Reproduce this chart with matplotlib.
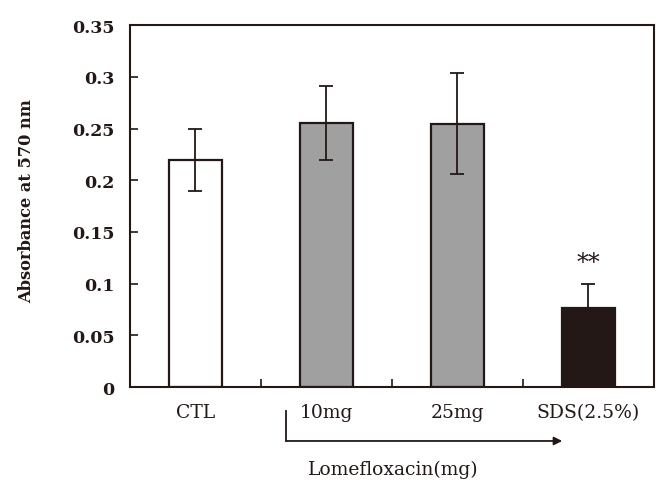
import matplotlib
matplotlib.use("Agg")
import matplotlib.pyplot as plt

categories = ["CTL", "10mg", "25mg", "SDS(2.5%)"]
values = [0.220, 0.255, 0.254, 0.076]
err_low = [0.030, 0.035, 0.048, 0.005]
err_high = [0.030, 0.036, 0.050, 0.024]
bar_colors = ["#ffffff", "#a0a0a0", "#a0a0a0", "#231815"]
yticks = [0, 0.05, 0.1, 0.15, 0.2, 0.25, 0.3, 0.35]
ytick_labels = ["0", "0.05", "0.1", "0.15", "0.2", "0.25", "0.3", "0.35"]

plt.rcParams['font.family'] = ['DejaVu Serif']
edge = "#231815"

fig = plt.figure(figsize=(6.7, 5.02), dpi=100)
ax = fig.add_axes([0.194, 0.227, 0.782, 0.721])

x = list(range(len(categories)))
ax.bar(x, values, width=0.41, color=bar_colors, edgecolor=edge, linewidth=1.6, zorder=2)
ax.errorbar(x, values, yerr=[err_low, err_high], fmt='none', ecolor=edge,
            elinewidth=1.3, capsize=5, capthick=1.3, zorder=3)

ax.text(3, 0.120, "**", ha='center', va='center', fontsize=17, color=edge)

ax.set_xlim(-0.5, 3.5)
ax.set_ylim(0, 0.35)
ax.set_yticks(yticks)
ax.set_yticklabels(ytick_labels, fontsize=12.5, fontweight='bold', color=edge)
ax.tick_params(axis='y', direction='in', length=6, width=1.2, pad=11, color=edge)

# boundary ticks between categories; category names as text
ax.set_xticks([0.5, 1.5, 2.5])
ax.set_xticklabels([])
ax.tick_params(axis='x', direction='in', length=6, width=1.2, color=edge)
for xi, lab in zip(x, categories):
    ax.text(xi, -0.069, lab, transform=ax.get_xaxis_transform(), ha='center',
            va='center', fontsize=13.5, color=edge)

for s in ax.spines.values():
    s.set_linewidth(1.5)
    s.set_color(edge)

fig.text(27 / 670, 1 - 201 / 502, "Absorbance at 570 nm", rotation=90,
         ha='center', va='center', fontsize=11.7, fontweight='bold', color=edge)

# bracket arrow for Lomefloxacin
trans = ax.get_xaxis_transform()
ax.plot([0.694, 0.694], [-0.065, -0.149], transform=trans, color=edge,
        linewidth=1.3, clip_on=False)
ax.annotate("", xy=(2.80, -0.149), xytext=(0.694, -0.149), xycoords=trans,
            textcoords=trans, annotation_clip=False,
            arrowprops=dict(arrowstyle='-|>', color=edge, linewidth=1.3,
                            mutation_scale=12, shrinkA=0, shrinkB=0))
ax.text(0.502, -0.227, "Lomefloxacin(mg)", transform=ax.transAxes, ha='center',
        va='center', fontsize=13.5, color=edge)

fig.savefig("out.png", dpi=100)
